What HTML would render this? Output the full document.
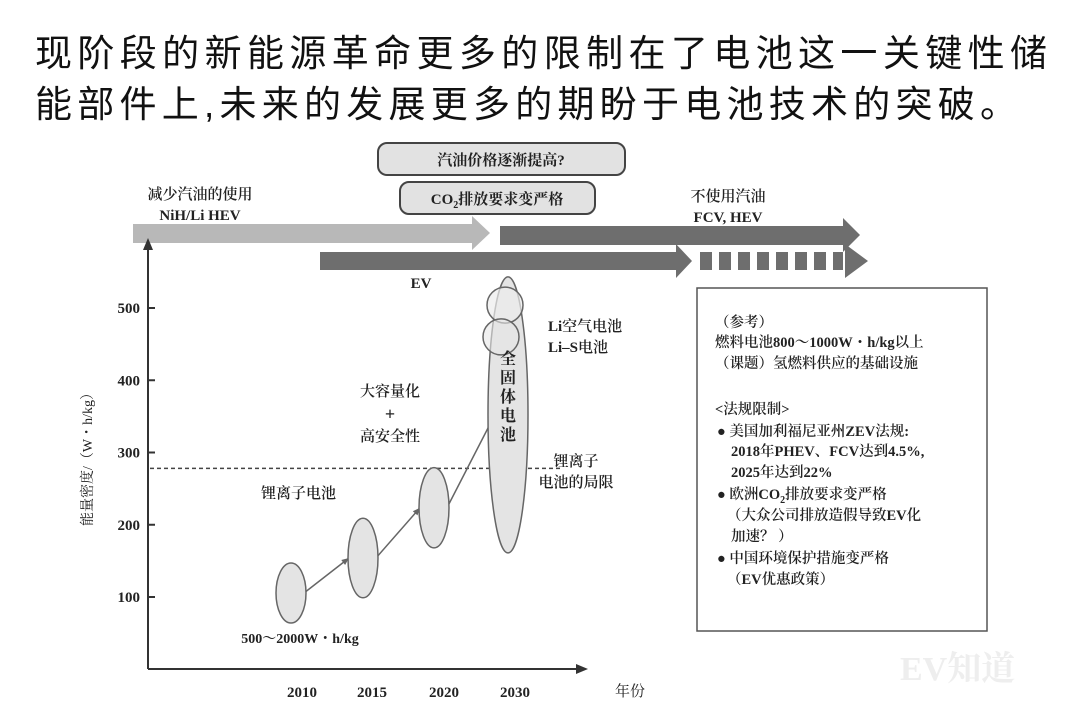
<!DOCTYPE html>
<html><head><meta charset="utf-8"><style>
html,body{margin:0;padding:0;background:#fff;}
svg{display:block;}
text{font-family:"Liberation Serif","Noto Serif CJK SC",serif;fill:#222;}
.t{font-family:"Liberation Sans","Noto Sans CJK SC",sans-serif;fill:#111;}
</style></head><body>
<svg id="c" width="1080" height="720" viewBox="0 0 1080 720">
<text class="t" x="35" y="66" font-size="37" textLength="1012" lengthAdjust="spacing">现阶段的新能源革命更多的限制在了电池这一关键性储</text>
<text class="t" x="35" y="117" font-size="37" textLength="982" lengthAdjust="spacing">能部件上,未来的发展更多的期盼于电池技术的突破。</text>

<g>
<rect x="378" y="143" width="247" height="32" rx="9" fill="#e2e2e2" stroke="#444" stroke-width="2"/>
<text x="501" y="165" font-size="15" text-anchor="middle" font-weight="bold">汽油价格逐渐提高?</text></g>
<g>
<rect x="400" y="182" width="195" height="32" rx="9" fill="#e2e2e2" stroke="#444" stroke-width="2"/>
<text x="497" y="204" font-size="15" text-anchor="middle" font-weight="bold">CO<tspan font-size="10" dy="4">2</tspan><tspan dy="-4">排放要求变严格</tspan></text></g>

<g>
<polygon points="133,224 472,224 472,216 490,233 472,250 472,243 133,243" fill="#b8b8b8"/>
<text x="200" y="199" font-size="15" text-anchor="middle" font-weight="600">减少汽油的使用</text>
<text x="200" y="220" font-size="15" text-anchor="middle" font-weight="600">NiH/Li HEV</text></g>
<g>
<polygon points="500,226 843,226 843,218 860,235 843,252 843,245 500,245" fill="#6e6e6e"/>
<text x="728" y="201" font-size="15" text-anchor="middle" font-weight="600">不使用汽油</text>
<text x="728" y="222" font-size="15" text-anchor="middle" font-weight="600">FCV, HEV</text></g>
<g>
<polygon points="320,252 676,252 676,244 692,261 676,278 676,270 320,270" fill="#6e6e6e"/>
<rect x="700" y="252" width="12" height="18" fill="#6e6e6e"/><rect x="719" y="252" width="12" height="18" fill="#6e6e6e"/><rect x="738" y="252" width="12" height="18" fill="#6e6e6e"/><rect x="757" y="252" width="12" height="18" fill="#6e6e6e"/><rect x="776" y="252" width="12" height="18" fill="#6e6e6e"/><rect x="795" y="252" width="12" height="18" fill="#6e6e6e"/><rect x="814" y="252" width="12" height="18" fill="#6e6e6e"/><rect x="833" y="252" width="10" height="18" fill="#6e6e6e"/>
<polygon points="845,244 868,261 845,278" fill="#6e6e6e"/>
<text x="421" y="288" font-size="15" text-anchor="middle" font-weight="bold">EV</text></g>

<g id="plot"></g>

<g>
<rect x="697" y="288" width="290" height="343" fill="#fff" stroke="#555" stroke-width="1.5"/>
<g font-size="14.5" font-weight="600">
<text x="715" y="327">（参考）</text>
<text x="715" y="347">燃料电池800～1000W・h/kg以上</text>
<text x="715" y="368">（课题）氢燃料供应的基础设施</text>
<text x="715" y="414">&lt;法规限制&gt;</text>
<text x="717" y="436">● 美国加利福尼亚州ZEV法规:</text>
<text x="731" y="456">2018年PHEV、FCV达到4.5%,</text>
<text x="731" y="477">2025年达到22%</text>
<text x="717" y="499">● 欧洲CO<tspan font-size="10" dy="4">2</tspan><tspan dy="-4">排放要求变严格</tspan></text>
<text x="727" y="520">（大众公司排放造假导致EV化</text>
<text x="731" y="541">加速？ ）</text>
<text x="717" y="563">● 中国环境保护措施变严格</text>
<text x="727" y="584">（EV优惠政策）</text>
</g></g>
<text x="900" y="680" font-size="34" font-weight="bold" style="fill:#eeeeee" font-family="Liberation Sans, Noto Sans CJK SC, sans-serif">EV知道</text>
</svg>
<script>
const categories = ["2010","2015","2020","2030"];
const lowValues = [64, 99, 168, 161];
const highValues = [147, 209, 279, 543];
const yTicks = [100, 200, 300, 400, 500];
const limitValue = 278;
const liAirValue = 504;
const liSValue = 460;
const NS="http://www.w3.org/2000/svg";
const plot=document.getElementById('plot');
function y(v){return 597-(v-100)*0.7225;}
function x(i){return [291,363,434,508][i];}
function mk(tag,attrs,txt){const e=document.createElementNS(NS,tag);for(const k in attrs)e.setAttribute(k,attrs[k]);if(txt!==undefined)e.textContent=txt;plot.appendChild(e);return e;}
let e;
e=mk('line',{x1:148,y1:669,x2:148,y2:245,stroke:'#333','stroke-width':2});


e=mk('polygon',{points:'143,250 148,238 153,250',fill:'#333'});


e=mk('line',{x1:148,y1:669,x2:578,y2:669,stroke:'#333','stroke-width':2});


e=mk('polygon',{points:'576,664 588,669 576,674',fill:'#333'});


yTicks.forEach(v=>{
 const t=mk('line',{x1:148,y1:y(v),x2:155,y2:y(v),stroke:'#333','stroke-width':2});
 
 
 const l=mk('text',{x:140,y:y(v)+5,'font-size':15,'text-anchor':'end','font-weight':'bold'},String(v));
 
 
});
e=mk('text',{transform:'translate(92,456) rotate(-90)','font-size':14,'text-anchor':'middle',fill:'#555'},'能量密度/（W・h/kg）');


categories.forEach((c,i)=>{
 const l=mk('text',{x:[302,372,444,515][i],y:697,'font-size':15,'text-anchor':'middle','font-weight':'bold'},c);
 
 
});
e=mk('text',{x:630,y:696,'font-size':15,'text-anchor':'middle',fill:'#555'},'年份');


e=mk('line',{x1:150,y1:y(limitValue),x2:560,y2:y(limitValue),stroke:'#444','stroke-width':1.5,'stroke-dasharray':'4,3'});


for(let i=0;i<3;i++){
 const x1=x(i)+13,y1=y((lowValues[i]+highValues[i])/2);
 const x2=x(i+1)-14,y2=y(i<2?(lowValues[i+1]+highValues[i+1])/2:350);
 const a=mk('line',{x1:x1,y1:y1,x2:x2,y2:y2,stroke:'#666','stroke-width':1.5});
 
 
 const ang=Math.atan2(y2-y1,x2-x1),L=8;
 const h=mk('polygon',{points:`${x2},${y2} ${x2-L*Math.cos(ang-0.4)},${y2-L*Math.sin(ang-0.4)} ${x2-L*Math.cos(ang+0.4)},${y2-L*Math.sin(ang+0.4)}`,fill:'#666'});
 
 
}
categories.forEach((c,i)=>{
 const cy=(y(lowValues[i])+y(highValues[i]))/2, ry=(y(lowValues[i])-y(highValues[i]))/2;
 const el=mk('ellipse',{cx:x(i),cy:cy,rx:i===3?20:15,ry:ry,fill:'#e4e4e4',stroke:'#666','stroke-width':1.5});
 
 
});
e=mk('circle',{cx:x(3)-3,cy:y(liAirValue),r:18,fill:'#ececec','fill-opacity':0.7,stroke:'#666','stroke-width':1.5});


e=mk('circle',{cx:x(3)-7,cy:y(liSValue),r:18,fill:'#e6e6e6','fill-opacity':0.6,stroke:'#666','stroke-width':1.5});


const labels=[[261,498,'锂离子电池',15,'start'],[390,396,'大容量化',15,'middle'],[390,420,'+',18,'middle'],[390,441,'高安全性',15,'middle'],[576,466,'锂离子',15,'middle'],[576,487,'电池的局限',15,'middle'],[548,331,'Li空气电池',15,'start'],[548,352,'Li–S电池',15,'start'],[300,643,'500～2000W・h/kg',14,'middle']];
labels.forEach(l=>{
 const t=mk('text',{x:l[0],y:l[1],'font-size':l[3],'text-anchor':l[4],'font-weight':'600'},l[2]);
 
 
});
['全','固','体','电','池'].forEach((ch,k)=>{
 const t=mk('text',{x:x(3),y:364+k*19,'font-size':16,'text-anchor':'middle','font-weight':'bold'},ch);
 
 
});
</script>
</body></html>
